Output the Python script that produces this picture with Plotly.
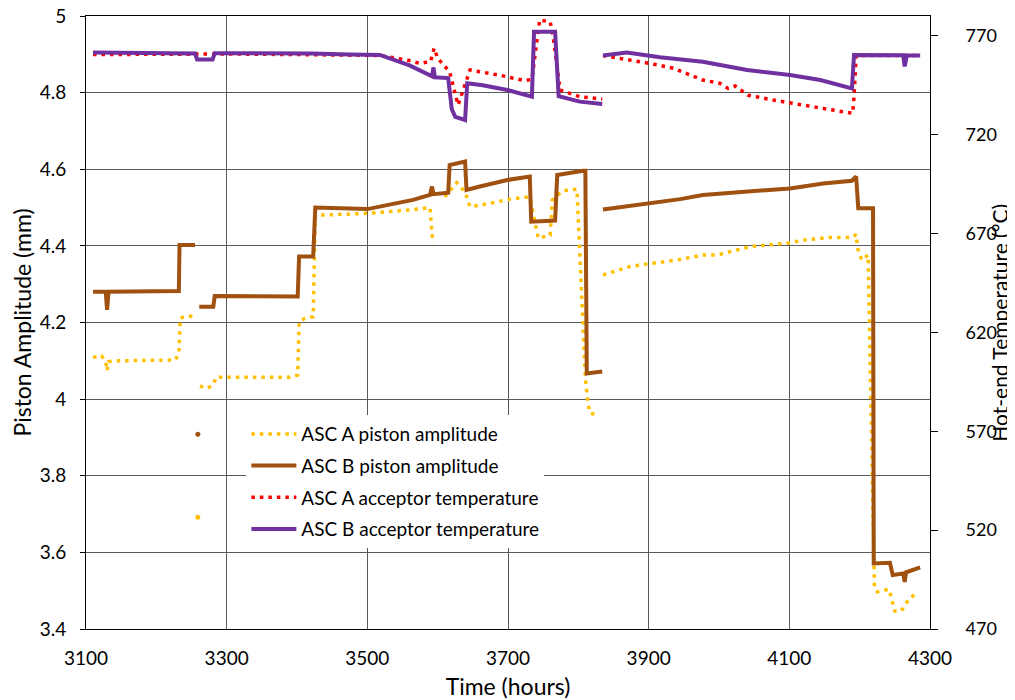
import plotly.graph_objects as go

# ---------------- data ----------------
# ASC A piston amplitude (mm), left axis
a_amp_t = [3110, 3122, 3128, 3130, 3132, 3145, 3227, 3232, 3234, 3245, 3255, None,
           3262, 3272, 3281, 3285, 3390, 3401, 3403, 3411, 3423, 3426, 3447, 3500,
           3561, 3589, 3593, None, 3610, 3627, 3639, 3646, 3674, 3703, 3724, 3731,
           3743, 3760, 3763, 3778, 3798, 3810, 3814, 3817, 3829, None,
           3835, 3873, 3902, 3940, 3977, 3997, 4044, 4068, 4101, 4120, 4158, 4190,
           4195, 4197, 4203, 4212, 4220, 4221, 4225, 4232, 4242, 4245, 4248, 4250,
           4259, 4264, 4270, 4279]
a_amp_v = [4.109, 4.113, 4.098, 4.074, 4.098, 4.100, 4.102, 4.120, 4.212, 4.216, 4.217, None,
           4.034, 4.028, 4.037, 4.057, 4.057, 4.063, 4.202, 4.211, 4.215, 4.480, 4.481, 4.485,
           4.494, 4.500, 4.407, None, 4.528, 4.565, 4.541, 4.502, 4.511, 4.522, 4.527, 4.527,
           4.420, 4.428, 4.520, 4.544, 4.548, 4.054, 3.985, 3.963, 3.959, None,
           4.324, 4.346, 4.354, 4.363, 4.376, 4.376, 4.398, 4.402, 4.408, 4.415, 4.422, 4.422,
           4.430, 4.394, 4.363, 4.376, 3.558, 3.510, 3.497, 3.501, 3.503, 3.484, 3.463, 3.447,
           3.447, 3.463, 3.478, 3.491]

# ASC B piston amplitude (mm), left axis
b_amp_t = [3110, 3128, 3130, 3132, 3232, 3233, 3255, None,
           3261, 3281, 3283, 3350, 3401, 3403, 3423, 3426, 3475, 3500, 3565, 3589,
           3592, 3594, 3615, 3617, 3639, 3641, 3660, 3699, 3731, 3733, 3767, 3770,
           3807, 3810, 3812, 3834, None,
           3835, 3898, 3945, 3977, 4040, 4101, 4148, 4189, 4195, 4198, 4219, 4220,
           4243, 4247, 4262, 4264, 4266, 4286]
b_amp_v = [4.280, 4.280, 4.233, 4.280, 4.282, 4.402, 4.402, None,
           4.241, 4.241, 4.269, 4.268, 4.268, 4.372, 4.372, 4.500, 4.498, 4.496, 4.520, 4.533,
           4.555, 4.535, 4.539, 4.611, 4.620, 4.546, 4.555, 4.572, 4.581, 4.463, 4.466, 4.585,
           4.596, 4.596, 4.067, 4.072, None,
           4.495, 4.511, 4.522, 4.533, 4.541, 4.550, 4.563, 4.570, 4.581, 4.498, 4.498, 3.571,
           3.573, 3.541, 3.545, 3.523, 3.548, 3.561]

# isolated readings around 3259 h
a_amp_iso_t = [3259]
a_amp_iso_v = [3.692]
b_amp_iso_t = [3259]
b_amp_iso_v = [3.908]

# ASC A acceptor temperature (°C), right axis
a_temp_t = [3110, 3200, 3300, 3400, 3518, 3556, 3575, 3590, 3595, 3600, 3617, 3629,
            3641, 3646, 3689, 3724, 3734, 3745, 3760, 3764, 3774, 3802, 3834, None,
            3835, 3859, 3902, 3935, 3977, 4001, 4013, 4023, 4041, 4077, 4101, 4139,
            4176, 4190, 4192, 4195, 4286]
a_temp_v = [760.5, 760.8, 760.8, 760.5, 760.0, 757.8, 756.0, 757.0, 763.7, 758.6, 751.8, 735.0,
            748.5, 752.7, 750.0, 747.3, 748.0, 778.0, 777.0, 770.0, 742.6, 739.2, 738.0, None,
            760.0, 758.6, 756.0, 753.6, 747.6, 746.0, 743.4, 744.6, 740.0, 737.5, 735.9, 733.8,
            731.6, 730.8, 739.2, 760.0, 760.0]

# ASC B acceptor temperature (°C), right axis
b_temp_t = [3110, 3150, 3200, 3255, 3258, 3262, 3280, 3283, 3350, 3420, 3475, 3518,
            3560, 3592, 3594, 3596, 3615, 3620, 3625, 3639, 3642, 3664, 3699, 3734,
            3737, 3767, 3772, 3802, 3834, None,
            3835, 3869, 3916, 3977, 4040, 4101, 4144, 4189, 4192, 4262, 4264, 4267, 4286]
b_temp_v = [761.5, 761.3, 761.2, 761.0, 758.0, 758.0, 758.0, 761.2, 761.3, 761.0, 760.5, 760.3,
            755.0, 749.5, 754.0, 749.0, 748.6, 733.0, 729.0, 727.4, 746.0, 745.0, 742.6, 739.2,
            772.0, 772.0, 739.5, 736.7, 735.5, None,
            760.0, 761.5, 759.1, 756.9, 752.7, 750.2, 747.6, 743.4, 760.3, 760.2, 754.5, 760.0, 760.0]

series_names = ["ASC A piston amplitude", "ASC B piston amplitude",
                "ASC A acceptor temperature", "ASC B acceptor temperature"]

x_ticks = [3100, 3300, 3500, 3700, 3900, 4100, 4300]
y_ticks = [3.4, 3.6, 3.8, 4.0, 4.2, 4.4, 4.6, 4.8, 5.0]
y_ticklabels = ["3.4", "3.6", "3.8", "4", "4.2", "4.4", "4.6", "4.8", "5"]
y2_ticks = [470, 520, 570, 620, 670, 720, 770]

# ---------------- style ----------------
YELLOW = "#FFC000"
BROWN = "#A0500F"
RED = "#FF0000"
PURPLE = "#7030A0"
FONT = "Lato"
GRID = "#5a5a5a"
DOT = "3.5px,5px"

fig = go.Figure()

fig.add_trace(go.Scatter(x=a_amp_t, y=a_amp_v, name=series_names[0], mode="lines",
                         line=dict(color=YELLOW, width=3.5, dash=DOT),
                         legendgroup="g1", connectgaps=False))
fig.add_trace(go.Scatter(x=a_amp_iso_t, y=a_amp_iso_v, mode="markers", showlegend=False,
                         marker=dict(color=YELLOW, size=5), legendgroup="g1"))
fig.add_trace(go.Scatter(x=b_amp_t, y=b_amp_v, name=series_names[1], mode="lines",
                         line=dict(color=BROWN, width=4), legendgroup="g2", connectgaps=False))
fig.add_trace(go.Scatter(x=b_amp_iso_t, y=b_amp_iso_v, mode="markers", showlegend=False,
                         marker=dict(color=BROWN, size=5), legendgroup="g2"))
fig.add_trace(go.Scatter(x=a_temp_t, y=a_temp_v, name=series_names[2], mode="lines", yaxis="y2",
                         line=dict(color=RED, width=3.5, dash=DOT),
                         legendgroup="g3", connectgaps=False))
fig.add_trace(go.Scatter(x=b_temp_t, y=b_temp_v, name=series_names[3], mode="lines", yaxis="y2",
                         line=dict(color=PURPLE, width=4), legendgroup="g4", connectgaps=False))

fig.update_layout(
    width=1007, height=692,
    margin=dict(l=78, r=85, t=8, b=71, autoexpand=False),
    paper_bgcolor="white", plot_bgcolor="white",
    font=dict(family=FONT, size=19, color="#000000"),
    showlegend=True,
    legend=dict(x=0.190, y=0.349, xanchor="left", yanchor="top",
                bgcolor="white", borderwidth=0,
                font=dict(family=FONT, size=19, color="#000000"),
                traceorder="grouped", tracegroupgap=4, itemwidth=45),
    xaxis=dict(range=[3100, 4300], tickvals=x_ticks, ticktext=[str(v) for v in x_ticks],
               showgrid=True, gridcolor=GRID, gridwidth=1, automargin=False,
               showline=True, linecolor="#000000", linewidth=1, mirror=True,
               ticks="", zeroline=False, ticklabelstandoff=12,
               title=dict(text="Time (hours)", font=dict(size=23), standoff=14)),
    yaxis=dict(range=[3.4, 5.0], tickvals=y_ticks, ticktext=y_ticklabels,
               showgrid=True, gridcolor=GRID, gridwidth=1, automargin=False,
               showline=True, linecolor="#000000", linewidth=1, mirror=True,
               ticks="outside", ticklen=5, tickcolor="#000000", zeroline=False,
               ticklabelstandoff=10, ticklabeloverflow="allow",
               title=dict(text="Piston Amplitude (mm)", font=dict(size=23), standoff=3)),
    yaxis2=dict(range=[470, 780], tickvals=y2_ticks, ticktext=[str(v) for v in y2_ticks],
                overlaying="y", side="right", showgrid=False, zeroline=False, automargin=False,
                showline=True, linecolor="#000000", linewidth=1,
                ticks="outside", ticklen=7, tickcolor="#000000", ticklabelstandoff=24,
                ticklabeloverflow="allow", tickfont=dict(size=18)),
    annotations=[dict(text="Hot-end Temperature (°C)", textangle=-90,
                      xref="paper", yref="paper", x=1.082, y=0.5,
                      xanchor="center", yanchor="middle", showarrow=False,
                      font=dict(family=FONT, size=21, color="#000000"))],
)

fig.write_html("out.html")
